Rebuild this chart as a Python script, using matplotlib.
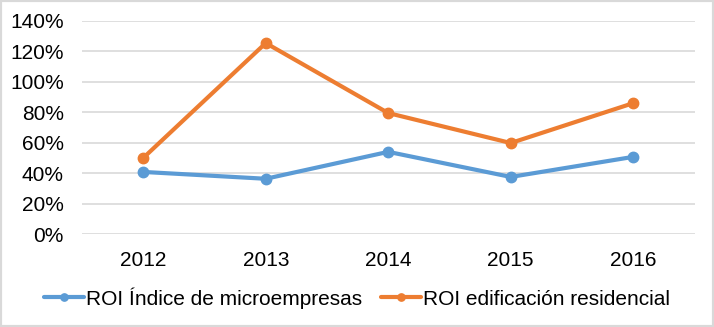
import matplotlib
matplotlib.use("Agg")
import matplotlib.pyplot as plt
from matplotlib.patches import Rectangle

plt.rcParams['font.family'] = ['Liberation Sans', 'DejaVu Sans']

years = ["2012", "2013", "2014", "2015", "2016"]
roi_micro = [40.8, 36.3, 54.0, 37.5, 50.7]
roi_edif = [50.0, 125.5, 79.5, 59.8, 86.0]
yticks = [0, 20, 40, 60, 80, 100, 120, 140]

W, H = 714, 327
fig = plt.figure(figsize=(W/100, H/100), dpi=100)
ax = fig.add_axes([82/W, 1-234/H, (694.5-82)/W, (234-21)/H])

x = list(range(len(years)))
blue = '#5B9BD5'
orange = '#ED7D31'
ax.plot(x, roi_micro, color=blue, lw=3, marker='o', ms=7.5, label='ROI Índice de microempresas', solid_capstyle='round')
ax.plot(x, roi_edif, color=orange, lw=3, marker='o', ms=7.5, label='ROI edificación residencial', solid_capstyle='round')

ax.set_xlim(-0.5, len(years)-0.5)
ax.set_ylim(0, 140)
ax.set_yticks(yticks)
ax.set_yticklabels([f"{v}%" for v in yticks])
ax.set_xticks(x)
ax.set_xticklabels(years)
ax.grid(axis='y', color='#D9D9D9', lw=1.2)
ax.set_axisbelow(True)
for s in ax.spines.values():
    s.set_visible(False)
ax.tick_params(axis='both', length=0, labelsize=15, colors='black')
ax.tick_params(axis='x', pad=12)
ax.tick_params(axis='y', pad=13)

leg = fig.legend(loc='center', bbox_to_anchor=(0.5, 1-298/H), ncol=2, frameon=False,
                 fontsize=15, handlelength=1.9, handletextpad=0.1, columnspacing=0.9,
                 markerscale=0.7)

fig.patches.append(Rectangle((0, 0), 1, 1, transform=fig.transFigure, fill=False,
                             edgecolor='#D9D9D9', lw=3))
fig.savefig('out.png', dpi=100)
